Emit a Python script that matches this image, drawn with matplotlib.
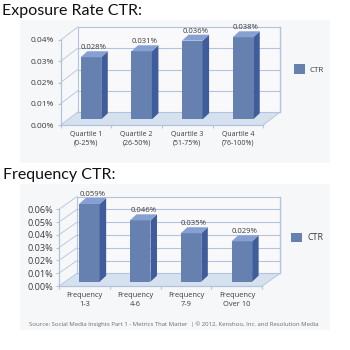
import matplotlib
matplotlib.use("Agg")
import matplotlib.pyplot as plt
from matplotlib.patches import Patch, Rectangle

plt.rcParams['font.family'] = ['Open Sans', 'DejaVu Sans']

# --- data -------------------------------------------------------------
exposure_title = "Exposure Rate CTR:"
exposure_cats = ["Quartile 1\n(0-25%)", "Quartile 2\n(26-50%)", "Quartile 3\n(51-75%)", "Quartile 4\n(76-100%)"]
exposure_heights = [0.0292, 0.0320, 0.0370, 0.0386]   # drawn height against the front axis
exposure_labels = ["0.028%", "0.031%", "0.036%", "0.038%"]
exposure_ticks = [0.00, 0.01, 0.02, 0.03, 0.04]

frequency_title = "Frequency CTR:"
frequency_cats = ["Frequency\n1-3", "Frequency\n4-6", "Frequency\n7-9", "Frequency\nOver 10"]
frequency_heights = [0.0608, 0.0480, 0.0379, 0.0316]
frequency_labels = ["0.059%", "0.046%", "0.035%", "0.029%"]
frequency_ticks = [0.00, 0.01, 0.02, 0.03, 0.04, 0.05, 0.06]

series_name = "CTR"
source_text = "Source: Social Media Insights Part 1 - Metrics That Matter  | © 2012, Kenshoo, Inc. and Resolution Media"

# --- style ------------------------------------------------------------
W = H = 350
PANEL = "#f6f7f8"
WALL = "#f9f9fb"
FLOOR = "#d6e1ef"
GRID = "#b3c3de"
FRONT = "#6680b0"
SIDE = "#3f5c9b"
TOP = "#86a0d4"
TEXT = "#3c3c3c"

fig = plt.figure(figsize=(W / 100, H / 100), dpi=100, facecolor="white")


def fx(px):
    return px / W


def fy(py):
    return 1 - py / H


def panel(x0, y0, x1, y1):
    fig.add_artist(Rectangle((fx(x0), fy(y1)), (x1 - x0) / W, (y1 - y0) / H,
                             transform=fig.transFigure, fc=PANEL, ec="none", zorder=-5))


def chart(box, heights, labels, cats, ticks, tick_size, cat_size, wall_d, bar_off, legend_xy, legend_size):
    left, right, top, bottom = box
    ax = fig.add_axes([fx(left), fy(bottom), (right - left) / W, (bottom - top) / H])
    ymax = ticks[-1]
    n = len(heights)
    ax.set_xlim(0, n)
    ax.set_ylim(0, ymax)
    ax.patch.set_visible(False)
    ux = n / (right - left)            # data units per pixel
    uy = ymax / (bottom - top)
    wdx, wdy = wall_d[0] * ux, wall_d[1] * uy

    # back wall
    ax.fill([wdx, n + wdx, n + wdx, wdx], [wdy, wdy, ymax + wdy, ymax + wdy],
            fc=WALL, ec="none", zorder=1, clip_on=False)
    # floor
    ax.fill([0, n, n + wdx, wdx], [0, 0, wdy, wdy], fc=FLOOR, ec="none", zorder=2, clip_on=False)
    # grid and left wall
    for t in ticks:
        ax.plot([wdx, n + wdx], [t + wdy, t + wdy], color=GRID, lw=0.8, zorder=2, clip_on=False)
        ax.plot([0, wdx], [t, t + wdy], color=GRID, lw=0.6, zorder=2, clip_on=False)
    ax.plot([wdx, wdx], [wdy, ymax + wdy], color=GRID, lw=0.8, zorder=2, clip_on=False)
    ax.plot([n + wdx, n + wdx], [wdy, ymax + wdy], color=GRID, lw=1.0, zorder=2, clip_on=False)
    ax.plot([n, n + wdx], [0, wdy], color=GRID, lw=0.6, zorder=2, clip_on=False)

    # bars
    width = 20.5 * ux
    ox, oy = bar_off[0] * ux, bar_off[1] * uy
    sx, sy = 6.5 * ux, 6 * uy
    for i, (h, lab) in enumerate(zip(heights, labels)):
        xl = i + 0.5 - width / 2 + ox
        xr = xl + width
        ax.bar(xl, h, width=width, bottom=oy, align="edge", color=FRONT, zorder=4, clip_on=False)
        ax.fill([xr, xr + sx, xr + sx, xr], [oy, oy + sy, oy + h + sy, oy + h],
                fc=SIDE, ec="none", zorder=4, clip_on=False)
        ax.fill([xl, xr, xr + sx, xl + sx], [oy + h, oy + h, oy + h + sy, oy + h + sy],
                fc=TOP, ec="none", zorder=4, clip_on=False)
        ax.annotate(lab, (xl + width / 2, oy + h), xytext=(3, 9.5), textcoords="offset pixels",
                    ha="center", va="center", fontsize=5.6, color=TEXT, zorder=6, annotation_clip=False)

    # axes
    for s in ("top", "right"):
        ax.spines[s].set_visible(False)
    for s in ("left", "bottom"):
        ax.spines[s].set_color(GRID)
        ax.spines[s].set_linewidth(0.9)
    ax.set_yticks(ticks)
    ax.set_yticklabels([f"{t:.2f}%" for t in ticks], fontsize=tick_size, color=TEXT)
    ax.tick_params(axis="y", length=2, width=0.8, color=GRID, pad=2.5)
    ax.set_xticks(range(n + 1))
    ax.set_xticklabels([""] * (n + 1))
    ax.tick_params(axis="x", which="major", length=2.5, width=0.8, color=GRID)
    ax.set_xticks([i + 0.5 for i in range(n)], minor=True)
    ax.set_xticklabels(cats, minor=True, fontsize=cat_size, color=TEXT, linespacing=1.25)
    ax.tick_params(axis="x", which="minor", length=0, pad=4.5)

    fig.legend(handles=[Patch(fc=FRONT, label=series_name)],
               loc="center left", bbox_to_anchor=(fx(legend_xy[0]), fy(legend_xy[1])),
               frameon=False, fontsize=legend_size, borderpad=0, borderaxespad=0,
               handlelength=8 / legend_size * 1.0, handleheight=8.5 / legend_size,
               handletextpad=0.6, labelcolor=TEXT)
    return ax


panel(20, 20, 330, 163)
panel(20, 184, 330, 330)

fig.text(fx(2), fy(11.5), exposure_title, fontsize=11.5, family="Lato", color="#111111", va="center", ha="left")
fig.text(fx(3), fy(174.5), frequency_title, fontsize=11.5, family="Lato", color="#111111", va="center", ha="left")

chart((60.7, 263.3, 40, 125), exposure_heights, exposure_labels, exposure_cats, exposure_ticks,
      6.0, 5.0, (17, 13), (5, 5.7), (294, 69), 5.8)
chart((59, 262.3, 209.3, 286), frequency_heights, frequency_labels, frequency_cats, frequency_ticks,
      6.6, 5.4, (18, 12.7), (5, 4.3), (291, 237.5), 6.4)

fig.text(fx(173.5), fy(324.3), source_text, fontsize=4.3, color="#6a6a6a", ha="center", va="center")

fig.savefig("out.png", dpi=100, facecolor="white")
